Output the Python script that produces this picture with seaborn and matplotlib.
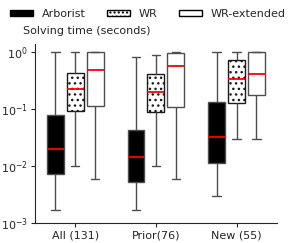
import matplotlib
matplotlib.use("Agg")
import matplotlib.pyplot as plt
from matplotlib.patches import Patch
import seaborn as sns
import numpy as np
import pandas as pd

groups = ["All (131)", "Prior(76)", "New (55)"]
methods = ["Arborist", "WR", "WR-extended"]

# five-number summaries: [min, q1, median, q3, max]
arborist = [[0.00172, 0.0071, 0.020, 0.0785, 1.0],
            [0.00172, 0.0052, 0.0142, 0.0418, 0.82],
            [0.00298, 0.0113, 0.032, 0.133, 1.0]]
wr = [[0.0098, 0.091, 0.219, 0.42, 1.0],
      [0.0098, 0.089, 0.196, 0.41, 0.86],
      [0.0294, 0.124, 0.327, 0.715, 1.0]]
wr_ext = [[0.0060, 0.111, 0.48, 0.98, 1.0],
          [0.0060, 0.108, 0.555, 0.95, 1.0],
          [0.0294, 0.171, 0.40, 0.98, 1.0]]

rows = []
for m, vals in zip(methods, [arborist, wr, wr_ext]):
    for g, five in zip(groups, vals):
        for v in five:
            rows.append({"group": g, "method": m, "time": v})
df = pd.DataFrame(rows)

sns.set_style("ticks")
plt.rcParams["font.family"] = ["DejaVu Sans"]

fig = plt.figure(figsize=(2.93, 2.43), dpi=100)
ax = fig.add_axes([0.119, 0.082, 0.826, 0.737])

palette = {"Arborist": "black", "WR": "white", "WR-extended": "white"}
sns.boxplot(data=df, x="group", y="time", hue="method", order=groups,
            hue_order=methods, palette=palette, log_scale=True,
            whis=(0, 100), width=0.74, gap=0.15, linecolor="0.3",
            linewidth=1, medianprops={"color": "red", "linewidth": 1.3},
            legend=False, ax=ax)

# hatch the WR boxes (every second of three, sorted by position)
boxes = sorted(ax.patches, key=lambda p: p.get_path().get_extents().x0)
for i, p in enumerate(boxes):
    if i % 3 == 1:
        p.set_hatch("...")
        p.set_edgecolor("0.1")

ax.set_ylim(1e-3, 1.36)
ax.set_xlim(-0.5, 2.5)
ax.set_xlabel("")
ax.set_ylabel("")
ax.tick_params(axis="both", labelsize=8, length=3, pad=2)
ax.minorticks_off()
sns.despine(ax=ax)

handles = [Patch(facecolor="black", edgecolor="black"),
           Patch(facecolor="white", edgecolor="black", hatch="...."),
           Patch(facecolor="white", edgecolor="black")]
fig.legend(handles, methods, loc="center left", bbox_to_anchor=(0.034, 0.943),
           ncol=3, frameon=False, fontsize=8, handlelength=2.07,
           handleheight=0.55, columnspacing=1.9, handletextpad=0.8,
           borderaxespad=0, borderpad=0)
fig.text(0.078, 0.872, "Solving time (seconds)", fontsize=8, va="center")

fig.savefig("out.png", dpi=100)
